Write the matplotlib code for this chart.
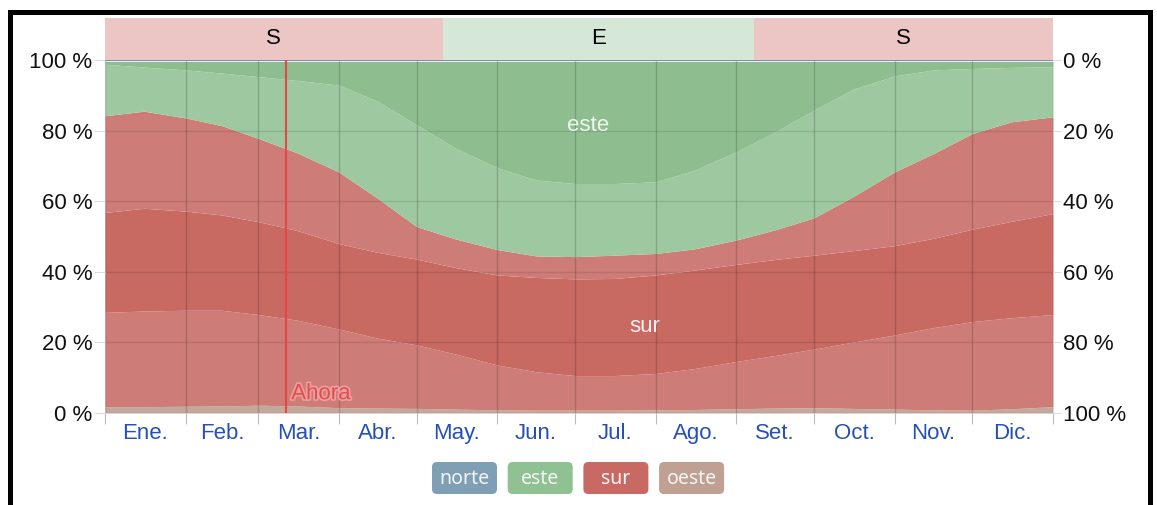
import matplotlib

matplotlib.use("Agg")
import matplotlib.pyplot as plt
from matplotlib.patches import FancyBboxPatch, Rectangle
import matplotlib.patheffects as pe
import numpy as np

plt.rcParams.update({"font.family": ["Liberation Sans", "DejaVu Sans"], "font.size": 16})

W, H = 1157, 505

# day of year for every reading (month starts and mid-months)
DAYS = [0, 15, 31, 45, 59, 74, 90, 105, 120, 135, 151, 166, 181,
        196, 212, 227, 243, 258, 273, 288, 304, 319, 334, 349, 365]

# cumulative tops of each stacked band, in % (bottom to top)
OESTE_TOP = [1.8, 1.8, 1.9, 2.0, 2.2, 2.0, 1.5, 1.4, 1.3, 1.1, 0.9, 0.8, 0.8,
             0.8, 0.9, 1.0, 1.2, 1.4, 1.5, 1.3, 1.1, 0.9, 0.8, 1.2, 1.8]
SUR_OESTE_TOP = [28.5, 28.9, 29.1, 29.1, 27.9, 26.3, 23.8, 21.2, 19.3, 16.7, 13.6, 11.7, 10.6,
                 10.6, 11.2, 12.6, 14.6, 16.3, 18.1, 20.1, 22.1, 24.2, 25.9, 27.0, 27.9]
SUR_TOP = [56.8, 58.0, 57.2, 56.1, 54.2, 51.7, 48.0, 45.5, 43.6, 41.2, 39.1, 38.4, 38.0,
           38.1, 39.1, 40.5, 42.1, 43.5, 44.7, 46.0, 47.4, 49.5, 52.1, 54.3, 56.5]
SUR_ESTE_TOP = [84.2, 85.5, 83.6, 81.4, 77.8, 73.7, 68.3, 60.8, 52.8, 49.3, 46.3, 44.5, 44.3,
                44.7, 45.2, 46.5, 49.0, 51.9, 55.3, 61.3, 68.3, 73.5, 79.2, 82.5, 83.9]
ESTE_SUR_TOP = [98.8, 98.0, 97.2, 96.3, 95.3, 94.2, 92.9, 88.3, 81.6, 75.0, 69.5, 66.0, 65.0,
                65.0, 65.5, 68.8, 74.0, 79.6, 85.8, 91.7, 95.5, 97.2, 97.6, 97.9, 98.1]
NORTE_SHARE = 0.4

MONTH_STARTS = [0, 31, 59, 90, 120, 151, 181, 212, 243, 273, 304, 334, 365]
MONTHS = ["Ene.", "Feb.", "Mar.", "Abr.", "May.", "Jun.",
          "Jul.", "Ago.", "Set.", "Oct.", "Nov.", "Dic."]
BANDS = [(0, 130, "S"), (130, 250, "E"), (250, 365, "S")]
NOW_DAY = 69.7

RED, RED_LT = "#c86962", "#ce7c77"
GREEN, GREEN_LT = "#8ebe90", "#9dc8a0"
OESTE_C, NORTE_C = "#c3a99c", "#7f9fb4"
BAND_C = {"S": "#ebc6c5", "E": "#d5e8d7"}

fig = plt.figure(figsize=(W / 100, H / 100), dpi=100)
ax = fig.add_axes([105 / W, 1 - 413 / H, 948 / W, 353 / H])

days = np.array(DAYS)
zero = np.zeros(len(days))
top = np.full(len(days), 100.0)
layers = [
    (zero, OESTE_TOP, OESTE_C),
    (OESTE_TOP, SUR_OESTE_TOP, RED_LT),
    (SUR_OESTE_TOP, SUR_TOP, RED),
    (SUR_TOP, SUR_ESTE_TOP, RED_LT),
    (SUR_ESTE_TOP, ESTE_SUR_TOP, GREEN_LT),
    (ESTE_SUR_TOP, top - NORTE_SHARE, GREEN),
    (top - NORTE_SHARE, top, NORTE_C),
]
for lo, hi, c in layers:
    ax.fill_between(days, lo, hi, color=c, lw=0, zorder=1)

ax.set_xlim(0, 365)
ax.set_ylim(0, 100)
for s in ax.spines.values():
    s.set_visible(False)

ax.set_xticks(MONTH_STARTS)
ax.set_xticklabels([])
ax.set_xticks([(a + b) / 2 for a, b in zip(MONTH_STARTS[:-1], MONTH_STARTS[1:])], minor=True)
ax.set_xticklabels(MONTHS, minor=True, color="#2450b8")
ax.tick_params(axis="x", which="major", length=8, color="#bbbbbb")
ax.tick_params(axis="x", which="minor", length=0, pad=7)
ax.grid(axis="x", which="major", color="black", alpha=0.17, lw=1, zorder=2)

yt = [0, 20, 40, 60, 80, 100]
ax.set_yticks(yt)
ax.set_yticklabels([f"{v} %" for v in yt], color="#111111")
ax.tick_params(axis="y", length=8, color="#dddddd", pad=1)
ax.grid(axis="y", color="black", alpha=0.1, lw=1, zorder=2)
ax.set_axisbelow(False)

rax = ax.twinx()
rax.set_ylim(0, 100)
rax.set_yticks(yt)
rax.set_yticklabels([f"{100 - v} %" for v in yt], color="#111111")
rax.tick_params(axis="y", length=6, color="#dddddd", pad=1)
for s in rax.spines.values():
    s.set_visible(False)

ax.axhline(100, color="#8090a8", lw=1.5, zorder=3)
ax.axvline(NOW_DAY, color="#e84545", lw=1.5, zorder=4)
ax.text(NOW_DAY + 2, 2.5, "Ahora", color="#e84a4a", fontsize=16, ha="left", va="bottom",
        zorder=5, path_effects=[pe.withStroke(linewidth=2.5, foreground="#e8a0a0")])
ax.text(186, 81.5, "este", color="#eef6ee", fontsize=16, ha="center", va="center", zorder=5)
ax.text(208, 24.5, "sur", color="#f6eeee", fontsize=16, ha="center", va="center", zorder=5)

# prevailing-direction band above the plot
bax = fig.add_axes([105 / W, 1 - 60 / H, 948 / W, 42 / H])
bax.set_xlim(0, 365)
bax.set_ylim(0, 1)
bax.axis("off")
for a, b, lab in BANDS:
    bax.add_patch(Rectangle((a, 0), b - a, 1, color=BAND_C[lab], lw=0))
    bax.text((a + b) / 2, 0.5, lab, ha="center", va="center", fontsize=16, color="black")

# pixel overlay for the frame and the legend
ov = fig.add_axes([0, 0, 1, 1])
ov.set_xlim(0, W)
ov.set_ylim(H, 0)
ov.axis("off")
ov.add_patch(Rectangle((8, 10), 1145, 5, color="black", lw=0))
ov.add_patch(Rectangle((8, 10), 5, H, color="black", lw=0))
ov.add_patch(Rectangle((1148, 10), 5, H, color="black", lw=0))

legend = [("norte", NORTE_C), ("este", "#8fc192"), ("sur", "#c86a63"), ("oeste", "#bfa092")]
for i, (name, c) in enumerate(legend):
    x0 = 432 + i * 75.7
    ov.add_patch(FancyBboxPatch((x0, 462), 65, 32, boxstyle="round,pad=0,rounding_size=5",
                                fc=c, ec="none"))
    ov.text(x0 + 32.5, 479, name, ha="center", va="center", fontsize=14,
            color="#f5f5f5", family=["Noto Sans", "DejaVu Sans"])

fig.savefig("out.png", dpi=100)
